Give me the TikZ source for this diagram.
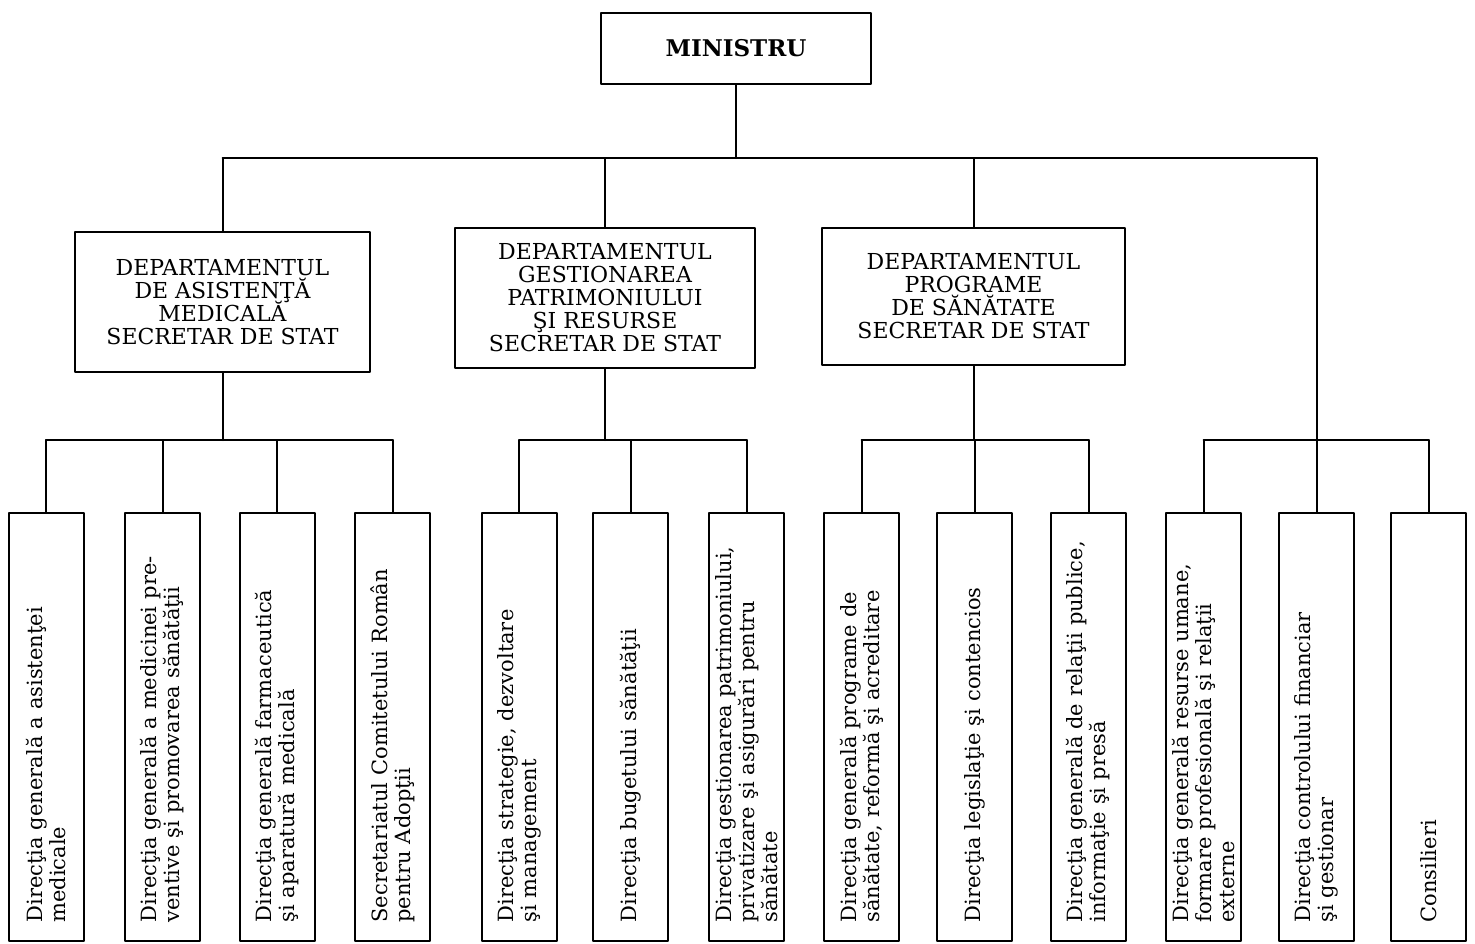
\documentclass[tikz,border=0pt]{standalone}
\usepackage{fontspec}
\setmainfont{DejaVu Serif}
\newcommand\tightlines{\lineskiplimit-5pt\lineskip0pt\relax}
\begin{document}
\begin{tikzpicture}[x=0.5pt, y=-0.5pt, line width=1pt, line join=round, line cap=round,
    ministru/.style={draw, minimum width=135pt, minimum height=35.5pt, font=\bfseries\fontsize{11.5}{13}\selectfont},
    dept/.style={draw, align=center, inner sep=0pt, minimum height=70pt, font=\fontsize{11}{11.5}\selectfont\tightlines},
    dir/.style={draw, rotate=90, minimum width=213.5pt, minimum height=37.5pt, inner xsep=9pt, inner ysep=1pt,
        text width=196pt, align=left, font=\fontsize{10.5}{11.5}\selectfont\tightlines}]
    \useasboundingbox (0,0) rectangle (1475,943);
    \coordinate (top) at (0,158); \coordinate (bar) at (0,440); % nivelurile barelor
    % ministru si departamente
    \node[ministru] (min) at (736,48) {MINISTRU};
    \node[dept, minimum width=147.5pt] (d1) at (222.5,302) {DEPARTAMENTUL\\DE ASISTENŢĂ\\MEDICALĂ\\SECRETAR DE STAT};
    \node[dept, minimum width=150pt] (d2) at (605,298) {DEPARTAMENTUL\\GESTIONAREA\\PATRIMONIULUI\\ŞI RESURSE\\SECRETAR DE STAT};
    \node[dept, minimum width=151.5pt, minimum height=68.5pt] (d3) at (973.5,296.5) {DEPARTAMENTUL\\PROGRAME\\DE SĂNĂTATE\\SECRETAR DE STAT};
    % directii (textul rotit, east = sus)
    \node[dir] (a1) at (46,726.5) {Direcţia generală a asistenţei\\medicale};
    \node[dir] (a2) at (162.5,726.5) {Direcţia generală a medicinei pre-\\ventive şi promovarea sănătăţii};
    \node[dir] (a3) at (277,726.5) {Direcţia generală farmaceutică\\şi aparatură medicală};
    \node[dir] (a4) at (392.5,726.5) {Secretariatul Comitetului Român\\pentru Adopţii};
    \node[dir] (b1) at (519,726.5) {Direcţia strategie, dezvoltare\\şi management};
    \node[dir] (b2) at (630.5,726.5) {Direcţia bugetului sănătăţii};
    \node[dir] (b3) at (746.5,726.5) {Direcţia gestionarea patrimoniului,\\privatizare şi asigurări pentru\\sănătate};
    \node[dir] (c1) at (861.5,726.5) {Direcţia generală programe de\\sănătate, reformă şi acreditare};
    \node[dir] (c2) at (974.5,726.5) {Direcţia legislaţie şi contencios};
    \node[dir] (c3) at (1088.5,726.5) {Direcţia generală de relaţii publice,\\informaţie şi presă};
    \node[dir] (e1) at (1203.5,726.5) {Direcţia generală resurse umane,\\formare profesională şi relaţii\\externe};
    \node[dir] (e2) at (1316.5,726.5) {Direcţia controlului financiar\\şi gestionar};
    \node[dir] (e3) at (1428.5,726.5) {Consilieri};
    % legaturi
    \draw (min.south) -- (min.south |- top);
    \draw (d1.north |- top) -- (e2.east |- top);
    \foreach \d in {d1,d2,d3} \draw (\d.north |- top) -- (\d.north);
    \draw (e2.east |- top) -- (e2.east |- bar);
    \draw (d1.south) -- (d1.south |- bar); \draw (a1.east |- bar) -- (a4.east |- bar);
    \draw (d2.south) -- (d2.south |- bar); \draw (b1.east |- bar) -- (b3.east |- bar);
    \draw (d3.south) -- (d3.south |- bar); \draw (c1.east |- bar) -- (c3.east |- bar);
    \draw (e1.east |- bar) -- (e3.east |- bar);
    \foreach \l in {a1,a2,a3,a4,b1,b2,b3,c1,c2,c3,e1,e2,e3} \draw (\l.east |- bar) -- (\l.east);
\end{tikzpicture}
\end{document}
